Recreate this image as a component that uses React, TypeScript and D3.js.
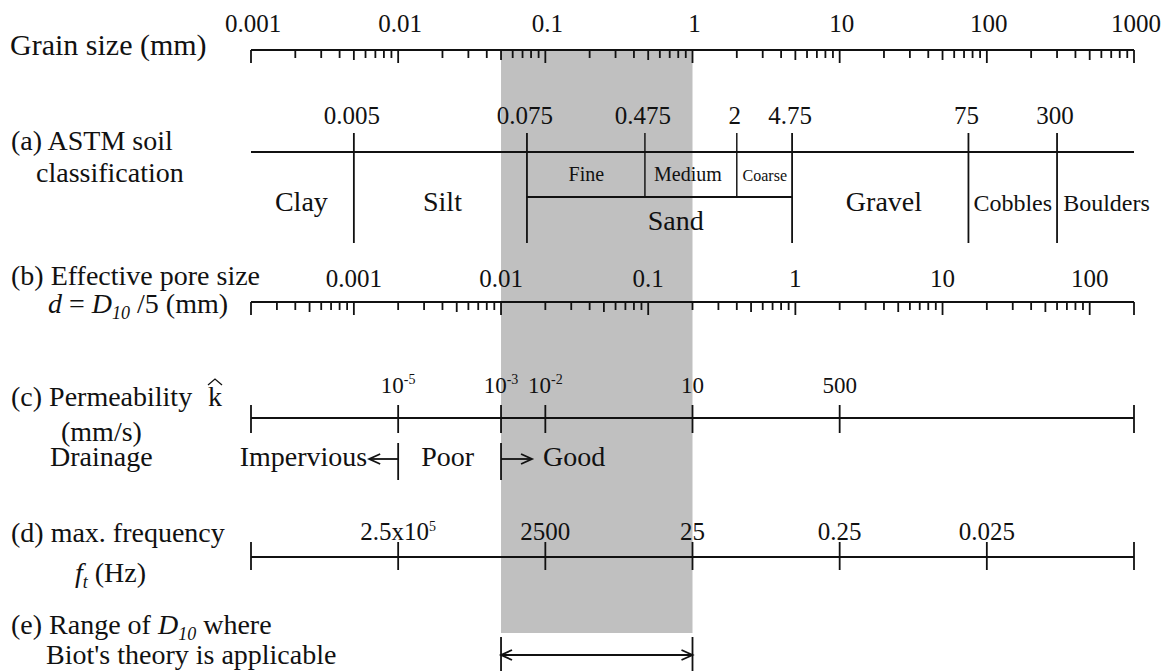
import React from 'react';
import * as d3 from 'd3';

// ---- data ----
const grainTickValues = [0.001, 0.01, 0.1, 1, 10, 100, 1000];
const grainTickLabels = ['0.001', '0.01', '0.1', '1', '10', '100', '1000'];

const astmBoundValues = [0.005, 0.075, 0.475, 2, 4.75, 75, 300];
const astmBoundLabels = ['0.005', '0.075', '0.475', '2', '4.75', '75', '300'];
const astmFullBounds = [0.005, 0.075, 4.75, 75, 300];
const sandSubBounds = [0.475, 2];
const sandRange = [0.075, 4.75];
const astmClassNames = ['Clay', 'Silt', 'Gravel', 'Cobbles', 'Boulders'];
const astmClassCenters = [0.0022, 0.02, 20, 150, 650];
const sandSubNames = ['Fine', 'Medium', 'Coarse'];
const sandSubCenters = [0.19, 0.93, 3.1];
const sandLabelCenter = 0.77;

const poreDomain = [0.0002, 200];
const poreTickValues = [0.001, 0.01, 0.1, 1, 10, 100];
const poreTickLabels = ['0.001', '0.01', '0.1', '1', '10', '100'];

const permBase = ['10', '10', '10', '10', '500'];
const permExp = ['-5', '-3', '-2', '', ''];
const permAtGrain = [0.01, 0.05, 0.1, 1, 10];

const freqBase = ['2.5x10', '2500', '25', '0.25', '0.025'];
const freqExp = ['5', '', '', '', ''];
const freqAtGrain = [0.01, 0.1, 1, 10, 100];

const drainageBounds = [0.01, 0.05];
const biotRange = [0.05, 1];
const grainDomain = [0.001, 1000];

export default function App() {
  const W = 1170, H = 671;
  const x = d3.scaleLog().domain(grainDomain).range([251, 1134]);
  const xp = d3.scaleLog().domain(poreDomain).range([251, 1134]);
  const font = "'Liberation Serif', 'Times New Roman', serif";
  const big = 28, tk = 25;
  const yTop = 50, yA = 152, ySand = 197, yB = 302, yC = 418, yD = 557, yE = 655;
  const sw = 1.8;

  const mant = (v: number) => Math.round(v / Math.pow(10, Math.floor(Math.log10(v) + 1e-9)));
  const tickLen = (v: number, dom: number[]) => {
    if (Math.abs(v - dom[0]) / dom[0] < 1e-6 || Math.abs(v - dom[1]) / dom[1] < 1e-6) return 13;
    const m = mant(v);
    return m === 1 ? 13 : m === 5 ? 10 : 8;
  };

  const grainTicks = x.ticks();
  const poreTicks = xp.ticks().filter(v => v >= poreDomain[0] * 0.999 && v <= poreDomain[1] * 1.001);

  const arrowHead = (tx: number, ty: number, dir: number) =>
    `M${tx - dir * 11},${ty - 5} L${tx},${ty} L${tx - dir * 11},${ty + 5}`;

  const txt = { fontFamily: font, fill: '#111' } as const;
  const kx = 208, ky = 406;

  return (
    <svg width={W} height={H} style={{ position: 'absolute', left: 0, top: 0, background: '#fff' }}>
      <rect x={0} y={0} width={W} height={H} fill="#fff" />
      {/* shaded range */}
      <rect x={x(biotRange[0])} y={yTop} width={x(biotRange[1]) - x(biotRange[0])} height={633 - yTop} fill="#c0c0c0" />

      {/* Grain size axis */}
      <text x={10} y={55} fontSize={30} {...txt}>Grain size (mm)</text>
      <line x1={x(grainDomain[0])} x2={x(grainDomain[1])} y1={yTop} y2={yTop} stroke="#111" strokeWidth={sw} />
      {grainTicks.map((v, i) => (
        <line key={'gt' + i} x1={x(v)} x2={x(v)} y1={yTop} y2={yTop + tickLen(v, grainDomain)} stroke="#111" strokeWidth={sw} />
      ))}
      {grainTickValues.map((v, i) => (
        <text key={'gl' + i} x={x(v) + 2} y={32} fontSize={tk} textAnchor="middle" {...txt}>{grainTickLabels[i]}</text>
      ))}

      {/* (a) ASTM */}
      <text x={11} y={150} fontSize={big} {...txt}>(a) ASTM soil</text>
      <text x={36} y={182} fontSize={big} {...txt}>classification</text>
      <line x1={x(grainDomain[0])} x2={x(grainDomain[1])} y1={yA} y2={yA} stroke="#111" strokeWidth={sw} />
      {astmFullBounds.map((v, i) => (
        <line key={'af' + i} x1={x(v)} x2={x(v)} y1={133} y2={243} stroke="#111" strokeWidth={sw} />
      ))}
      {sandSubBounds.map((v, i) => (
        <line key={'as' + i} x1={x(v)} x2={x(v)} y1={133} y2={ySand} stroke="#111" strokeWidth={sw * 0.8} />
      ))}
      <line x1={x(sandRange[0])} x2={x(sandRange[1])} y1={ySand} y2={ySand} stroke="#111" strokeWidth={sw} />
      {astmBoundValues.map((v, i) => (
        <text key={'al' + i} x={x(v) - 2} y={124} fontSize={tk} textAnchor="middle" {...txt}>{astmBoundLabels[i]}</text>
      ))}
      {astmClassNames.map((n, i) => (
        <text key={'ac' + i} x={x(astmClassCenters[i])} y={211} fontSize={i >= 3 ? 24 : big} textAnchor="middle" {...txt}>{n}</text>
      ))}
      {sandSubNames.map((n, i) => (
        <text key={'sn' + i} x={x(sandSubCenters[i])} y={181} fontSize={n === 'Coarse' ? 16 : 20} textAnchor="middle" {...txt}>{n}</text>
      ))}
      <text x={x(sandLabelCenter)} y={230} fontSize={big} textAnchor="middle" {...txt}>Sand</text>

      {/* (b) effective pore size */}
      <text x={11} y={285} fontSize={big} {...txt}>(b) Effective pore size</text>
      <text x={48} y={313} fontSize={big} {...txt}>
        <tspan fontStyle="italic">d</tspan>
        <tspan> = </tspan>
        <tspan fontStyle="italic">D</tspan>
        <tspan fontStyle="italic" fontSize={18} dy={6}>10</tspan>
        <tspan dy={-6}> /5 (mm)</tspan>
      </text>
      <line x1={xp(poreDomain[0])} x2={xp(poreDomain[1])} y1={yB} y2={yB} stroke="#111" strokeWidth={sw} />
      {poreTicks.map((v, i) => (
        <line key={'pt' + i} x1={xp(v)} x2={xp(v)} y1={yB} y2={yB + tickLen(v, poreDomain)} stroke="#111" strokeWidth={sw} />
      ))}
      {poreTickValues.map((v, i) => (
        <text key={'pl' + i} x={xp(v)} y={287} fontSize={tk} textAnchor="middle" {...txt}>{poreTickLabels[i]}</text>
      ))}

      {/* (c) permeability */}
      <text x={11} y={406} fontSize={big} {...txt}>(c) Permeability</text>
      <text x={kx} y={ky} fontSize={big} {...txt}>k</text>
      <path d={`M${kx},${ky - 21} L${kx + 7},${ky - 27} L${kx + 14},${ky - 21}`} fill="none" stroke="#111" strokeWidth={1.3} />
      <text x={61} y={441} fontSize={big} {...txt}>(mm/s)</text>
      <text x={50} y={466} fontSize={big} {...txt}>Drainage</text>
      <line x1={x(grainDomain[0])} x2={x(grainDomain[1])} y1={yC} y2={yC} stroke="#111" strokeWidth={sw} />
      {[grainDomain[0], ...permAtGrain, grainDomain[1]].map((v, i) => (
        <line key={'ct' + i} x1={x(v)} x2={x(v)} y1={yC - 13} y2={yC + 15} stroke="#111" strokeWidth={sw} />
      ))}
      {permAtGrain.map((v, i) => (
        <text key={'cl' + i} x={x(v)} y={393} fontSize={23} textAnchor="middle" {...txt}>
          {permBase[i]}
          {permExp[i] ? <tspan fontSize={14} dy={-9}>{permExp[i]}</tspan> : null}
        </text>
      ))}
      {/* drainage */}
      {drainageBounds.map((v, i) => (
        <line key={'db' + i} x1={x(v)} x2={x(v)} y1={443} y2={480} stroke="#111" strokeWidth={sw} />
      ))}
      <line x1={x(drainageBounds[0])} x2={x(drainageBounds[0]) - 29} y1={459} y2={459} stroke="#111" strokeWidth={sw} />
      <path d={arrowHead(x(drainageBounds[0]) - 29, 459, -1)} fill="none" stroke="#111" strokeWidth={sw} />
      <line x1={x(drainageBounds[1])} x2={x(drainageBounds[1]) + 31} y1={459} y2={459} stroke="#111" strokeWidth={sw} />
      <path d={arrowHead(x(drainageBounds[1]) + 31, 459, 1)} fill="none" stroke="#111" strokeWidth={sw} />
      <text x={x(drainageBounds[0]) - 31} y={466} fontSize={big} textAnchor="end" {...txt}>Impervious</text>
      <text x={x(drainageBounds[0]) + 23} y={466} fontSize={big} {...txt}>Poor</text>
      <text x={x(drainageBounds[1]) + 42} y={466} fontSize={big} {...txt}>Good</text>

      {/* (d) max frequency */}
      <text x={11} y={542} fontSize={big} {...txt}>(d) max. frequency</text>
      <text x={75} y={582} fontSize={big} {...txt}>
        <tspan fontStyle="italic">f</tspan>
        <tspan fontStyle="italic" fontSize={18} dy={6}>t</tspan>
        <tspan dy={-6}> (Hz)</tspan>
      </text>
      <line x1={x(grainDomain[0])} x2={x(grainDomain[1])} y1={yD} y2={yD} stroke="#111" strokeWidth={sw} />
      {[grainDomain[0], ...freqAtGrain, grainDomain[1]].map((v, i) => (
        <line key={'dt' + i} x1={x(v)} x2={x(v)} y1={yD - 15} y2={yD + 13} stroke="#111" strokeWidth={sw} />
      ))}
      {freqAtGrain.map((v, i) => (
        <text key={'dl' + i} x={x(v)} y={540} fontSize={tk} textAnchor="middle" {...txt}>
          {freqBase[i]}
          {freqExp[i] ? <tspan fontSize={14} dy={-9}>{freqExp[i]}</tspan> : null}
        </text>
      ))}

      {/* (e) Biot range */}
      <text x={11} y={634} fontSize={big} {...txt}>
        <tspan>(e) Range of </tspan>
        <tspan fontStyle="italic">D</tspan>
        <tspan fontStyle="italic" fontSize={18} dy={6}>10</tspan>
        <tspan dy={-6}> where</tspan>
      </text>
      <text x={46} y={664} fontSize={big} {...txt}>Biot's theory is applicable</text>
      {biotRange.map((v, i) => (
        <line key={'eb' + i} x1={x(v)} x2={x(v)} y1={637} y2={671} stroke="#111" strokeWidth={sw} />
      ))}
      <line x1={x(biotRange[0])} x2={x(biotRange[1])} y1={yE} y2={yE} stroke="#111" strokeWidth={sw} />
      <path d={arrowHead(x(biotRange[0]), yE, -1)} fill="none" stroke="#111" strokeWidth={sw} />
      <path d={arrowHead(x(biotRange[1]), yE, 1)} fill="none" stroke="#111" strokeWidth={sw} />
    </svg>
  );
}
